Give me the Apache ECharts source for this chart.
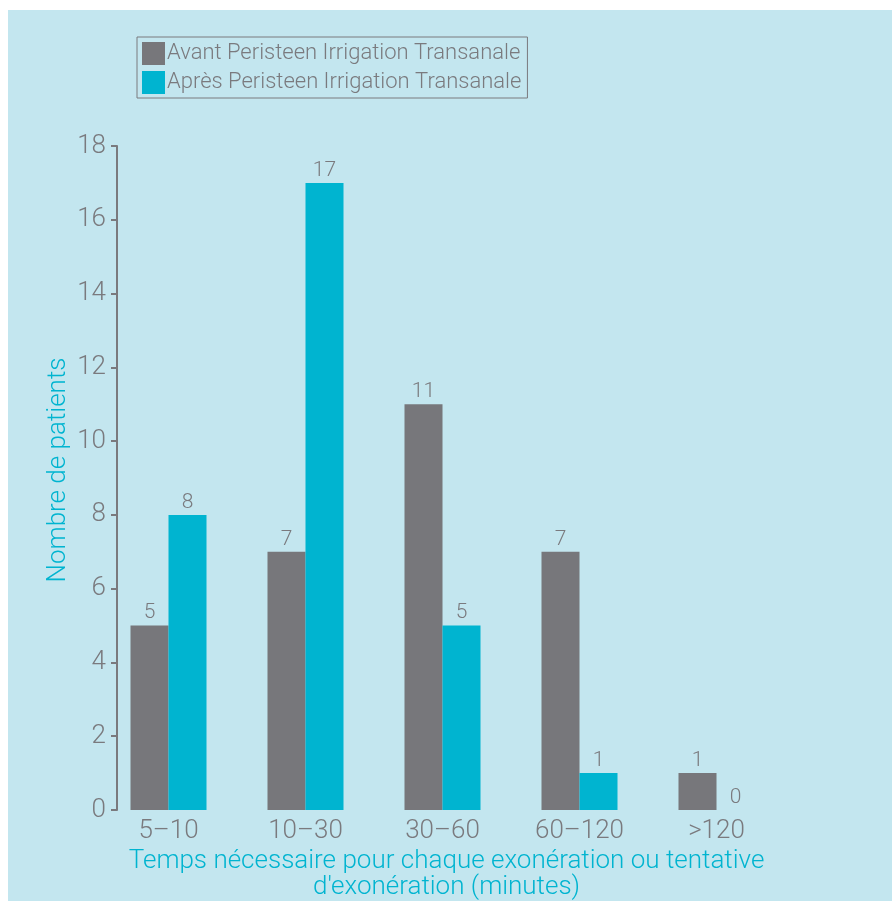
<!DOCTYPE html>
<html><head><meta charset="utf-8">
<script src="https://cdn.jsdelivr.net/npm/echarts@6/dist/echarts.min.js"></script>
<style>html,body{margin:0;padding:0;background:#fff}#c{position:absolute;left:8px;top:10px;width:884px;height:891px;background:#c3e6ef}</style>
</head><body><div id="c"></div>
<script>
const categories = ['5–10','10–30','30–60','60–120','>120'];
const seriesNames = ['Avant Peristeen Irrigation Transanale','Après Peristeen Irrigation Transanale'];
const avant = [5, 7, 11, 7, 1];
const apres = [8, 17, 5, 1, 0];
const yTicks = [0, 2, 4, 6, 8, 10, 12, 14, 16, 18];

const GRAY = '#77777b', CYAN = '#00b4d0', TXT = '#7a7a7e';
const FONT = 'Roboto';
const chart = echarts.init(document.getElementById('c'));
chart.setOption({
  animation: false,
  textStyle: {fontFamily: FONT, fontWeight: 300},
  legend: {
    left: 129, top: 27, orient: 'vertical', icon: 'rect',
    itemWidth: 23, itemHeight: 23, itemGap: 6,
    borderColor: '#7a7a7e', borderWidth: 1, padding: [5, 6, 4, 5],
    textStyle: {color: TXT, fontSize: 22, fontFamily: FONT, fontWeight: 300, padding: [3,0,0,-3]},
    data: seriesNames
  },
  grid: {left: 92, right: 107, top: 136, bottom: 91, outerBoundsMode: 'none', containLabel: false},
  xAxis: {
    type: 'category', data: categories,
    axisLine: {show: false}, axisTick: {show: false},
    axisLabel: {color: TXT, fontSize: 26, fontFamily: FONT, fontWeight: 300, margin: 8},
    name: 'Temps nécessaire pour chaque exonération ou tentative\nd\'exonération (minutes)',
    nameLocation: 'middle', nameGap: 38,
    nameTextStyle: {color: CYAN, fontSize: 26, fontFamily: FONT, fontWeight: 300, lineHeight: 26, align: 'center', verticalAlign: 'top', padding: [0,0,0,8]}
  },
  yAxis: {
    type: 'value', min: 0, max: 18, interval: 2, offset: -17,
    splitLine: {show: false},
    axisLine: {show: true, lineStyle: {color: TXT, width: 2}},
    axisTick: {show: true, length: 6, lineStyle: {color: TXT, width: 2}},
    axisLabel: {color: TXT, fontSize: 26, fontFamily: FONT, fontWeight: 300, margin: 11,
      formatter: v => yTicks.includes(v) ? String(v) : ''},
    name: 'Nombre de patients', nameLocation: 'middle', nameGap: 46, nameRotate: 90,
    nameMoveOverlap: false,
    nameTextStyle: {color: CYAN, fontSize: 26, fontFamily: FONT, fontWeight: 300, padding: [0,0,0,16]}
  },
  series: [
    {name: seriesNames[0], type: 'bar', data: avant, barWidth: 38, barGap: '0%',
     itemStyle: {color: GRAY},
     label: {show: true, position: 'top', color: TXT, fontSize: 21, fontFamily: FONT, fontWeight: 300, distance: 2}},
    {name: seriesNames[1], type: 'bar', data: apres, barWidth: 38, barGap: '0%',
     itemStyle: {color: CYAN},
     label: {show: true, position: 'top', color: TXT, fontSize: 21, fontFamily: FONT, fontWeight: 300, distance: 2}}
  ]
});
</script></body></html>
